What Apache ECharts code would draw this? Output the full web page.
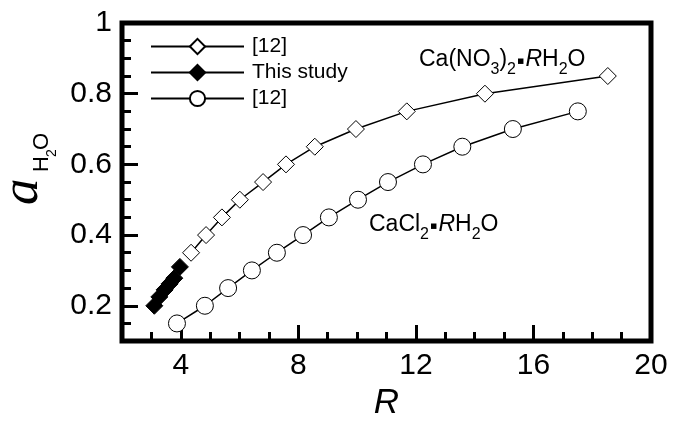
<!DOCTYPE html>
<html>
<head>
<meta charset="utf-8">
<title>aH2O vs R</title>
<script src="https://cdn.jsdelivr.net/npm/echarts@6/dist/echarts.min.js"></script>
<style>
  html, body { margin: 0; padding: 0; background: #fff; }
  #chart { width: 675px; height: 426px; }
</style>
</head>
<body>
<div id="chart"></div>
<script>
// 数据
const nitrateR = [4.35, 4.86, 5.40, 6.01, 6.80, 7.58, 8.56, 9.96, 11.69, 14.35, 18.53];
const nitrateA = [0.35, 0.40, 0.45, 0.50, 0.55, 0.60, 0.65, 0.70, 0.75, 0.80, 0.85];
const studyR = [3.10, 3.27, 3.45, 3.62, 3.78, 3.97];
const studyA = [0.20, 0.225, 0.245, 0.262, 0.278, 0.31];
const chlorideR = [3.87, 4.82, 5.61, 6.42, 7.27, 8.16, 9.04, 10.03, 11.05, 12.24, 13.58, 15.30, 17.51];
const chlorideA = [0.15, 0.20, 0.25, 0.30, 0.35, 0.40, 0.45, 0.50, 0.55, 0.60, 0.65, 0.70, 0.75];
const xMajor = [4, 8, 12, 16, 20];
const yMajor = [0.2, 0.4, 0.6, 0.8, 1];
const legendNames = { nitrate: '[12]', study: 'This study', chloride: '[12]' };

function pairs(xs, ys) {
    return xs.map(function (x, i) { return [x, ys[i]]; });
}

(function () {
    let myChart = echarts.init(document.getElementById('chart'));
    const font = 'Arial, "Liberation Sans", sans-serif';
    const tickLine = { color: '#000', width: 3 };
    // 化学式的富文本样式
    const formulaRich = {
        n: { fontSize: 23, fontFamily: font, fill: '#000' },
        i: { fontSize: 23, fontFamily: font, fontStyle: 'italic', fill: '#000' },
        s: { fontSize: 16, fontFamily: font, fill: '#000', padding: [20, 0, 0, 0] },
        d: { fontSize: 11, fontFamily: '"DejaVu Sans"', fill: '#000', padding: [2, 1, 0, 1] }
    };

    // 次刻度 + 主刻度 两套轴叠在一起
    let option = {
        animation: false,
        grid: {
            left: 122, right: 24, top: 23, bottom: 79,
            show: true, borderColor: '#000', borderWidth: 5
        },
        legend: {
            orient: 'vertical',
            left: 150, top: 36, padding: 0,
            itemWidth: 93, itemHeight: 19, itemGap: 5,
            formatter: function (name) { return legendNames[name]; },
            textStyle: { fontSize: 21, fontFamily: font, color: '#000', padding: [0, 0, 0, 3] },
            data: ['nitrate', 'study', 'chloride']
        },
        xAxis: [{
            type: 'value', min: 2, max: 20, interval: 1, position: 'bottom',
            axisLine: { show: false },
            axisTick: { inside: true, length: 9, lineStyle: tickLine },
            axisLabel: { show: false },
            splitLine: { show: false }
        }, {
            type: 'value', min: 2, max: 20, position: 'bottom',
            axisLine: { show: false },
            axisTick: { inside: true, length: 16, customValues: xMajor, lineStyle: tickLine },
            axisLabel: { customValues: xMajor, fontSize: 30, fontFamily: font, color: '#000', margin: 10 },
            splitLine: { show: false },
            name: 'R', nameLocation: 'middle', nameGap: 38,
            nameTextStyle: { fontSize: 35, fontStyle: 'italic', fontFamily: font, color: '#000' }
        }],
        yAxis: [{
            type: 'value', min: 0.1, max: 1, interval: 0.05, position: 'left',
            axisLine: { show: false },
            axisTick: { inside: true, length: 9, lineStyle: tickLine },
            axisLabel: { show: false },
            splitLine: { show: false }
        }, {
            type: 'value', min: 0.1, max: 1, position: 'left',
            axisLine: { show: false },
            axisTick: { inside: true, length: 16, customValues: yMajor, lineStyle: tickLine },
            axisLabel: { customValues: yMajor, fontSize: 30, fontFamily: font, color: '#000', margin: 10 },
            splitLine: { show: false }
        }],
        series: [{
            name: 'nitrate', type: 'line', data: pairs(nitrateR, nitrateA),
            symbol: 'diamond', symbolSize: 17,
            lineStyle: { color: '#000', width: 1.5 },
            itemStyle: { color: '#fff', borderColor: '#000', borderWidth: 1 },
            z: 2
        }, {
            name: 'study', type: 'line', data: pairs(studyR, studyA),
            symbol: 'diamond', symbolSize: 17,
            lineStyle: { color: '#000', width: 1.5 },
            itemStyle: { color: '#000', borderColor: '#000', borderWidth: 1 },
            z: 3
        }, {
            name: 'chloride', type: 'line', data: pairs(chlorideR, chlorideA),
            symbol: 'circle', symbolSize: 17,
            lineStyle: { color: '#000', width: 1.5 },
            itemStyle: { color: '#fff', borderColor: '#000', borderWidth: 1 },
            z: 2
        }],
        graphic: [
            // 纵轴标题 a_H2O (旋转)
            {
                type: 'group', x: 40, y: 205, rotation: Math.PI / 2,
                children: [
                    { type: 'text', x: 0, y: -17, style: { text: 'a', font: 'italic 53px "Liberation Serif", serif', fill: '#000', textVerticalAlign: 'middle' } },
                    { type: 'text', x: 33, y: 2, style: { text: 'H', font: '22px ' + font, fill: '#000', textVerticalAlign: 'middle' } },
                    { type: 'text', x: 48, y: 12, style: { text: '2', font: '14px ' + font, fill: '#000', textVerticalAlign: 'middle' } },
                    { type: 'text', x: 55, y: 2, style: { text: 'O', font: '22px ' + font, fill: '#000', textVerticalAlign: 'middle' } }
                ]
            },
            {
                type: 'text', x: 419, y: 60,
                style: {
                    text: '{n|Ca(NO}{s|3}{n|)}{s|2}{d|▪}{i|R}{n|H}{s|2}{n|O}',
                    textVerticalAlign: 'middle',
                    rich: formulaRich
                }
            },
            {
                type: 'text', x: 369, y: 225,
                style: {
                    text: '{n|CaCl}{s|2}{d|▪}{i|R}{n|H}{s|2}{n|O}',
                    textVerticalAlign: 'middle',
                    rich: formulaRich
                }
            }
        ]
    };

    myChart.setOption(option);
    window.addEventListener('resize', function () {
        myChart.resize();
    });
})();
</script>
</body>
</html>
